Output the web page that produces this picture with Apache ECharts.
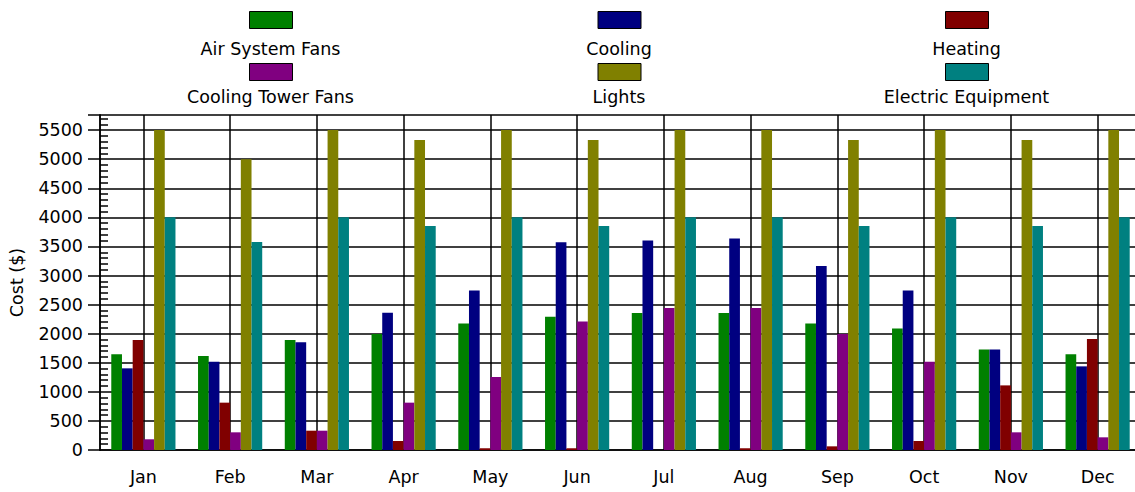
<!DOCTYPE html>
<html><head><meta charset="utf-8">
<script src="https://cdn.jsdelivr.net/npm/echarts@6/dist/echarts.min.js"></script>
<style>html,body{margin:0;padding:0;background:#fff}#c{width:1135px;height:492px}</style>
</head><body><div id="c"></div><script>
const months = ['Jan','Feb','Mar','Apr','May','Jun','Jul','Aug','Sep','Oct','Nov','Dec'];
const seriesNames = ['Air System Fans','Cooling','Heating','Cooling Tower Fans','Lights','Electric Equipment'];
const seriesColors = ['#008000','#000080','#800000','#800080','#808000','#008080'];
const airSystemFans    = [1645,1616,1891,1994,2177,2292,2355,2355,2177,2091,1730,1645];
const cooling          = [1404,1518,1851,2361,2744,3570,3604,3638,3163,2744,1730,1438];
const heating          = [1891, 814, 332, 155,  30,  30,   0,  30,  63, 155,1111,1908];
const coolingTowerFans = [ 184, 304, 332, 814,1255,2211,2441,2441,1994,1518, 304, 218];
const lights           = [5500,5000,5500,5330,5500,5330,5500,5500,5330,5500,5330,5500];
const electricEquipment= [4000,3575,4000,3850,4000,3850,4000,4000,3850,4000,3850,4000];
const seriesData = [airSystemFans, cooling, heating, coolingTowerFans, lights, electricEquipment];
const yMin = 0, yMax = 5760, yInterval = 500;

const FONT = 'DejaVu Sans';
const FS = 17.5;
const colCenters = [270.5, 619, 966.5];
const swatchTops = [11, 63];
const labelMids = [48.5, 97];

const legends = seriesNames.map((n, i) => {
  const col = i % 3, row = Math.floor(i / 3);
  return {
    data: [n], left: colCenters[col] - 21.5, top: swatchTops[row], padding: 0,
    itemWidth: 43, itemHeight: 17, icon: 'rect', selectedMode: false,
    itemStyle: { borderColor: '#000', borderWidth: 1 },
    formatter: () => '', textStyle: { fontSize: 1 }
  };
});
const labels = seriesNames.map((n, i) => {
  const col = i % 3, row = Math.floor(i / 3);
  return { type: 'text', x: colCenters[col], y: labelMids[row],
    style: { text: n, align: 'center', verticalAlign: 'middle', fill: '#000',
      font: FS + 'px "' + FONT + '"' } };
});

const lineStyle = { color: '#000', width: 1.5 };
const option = {
  animation: false,
  backgroundColor: '#fff',
  textStyle: { fontFamily: FONT },
  legend: legends,
  graphic: labels,
  grid: { left: 100, top: 115, width: 1041, height: 335, containLabel: false, outerBoundsMode: 'none' },
  xAxis: {
    type: 'category', data: months,
    axisLine: { lineStyle: lineStyle },
    axisTick: { alignWithLabel: true, length: 12, lineStyle: lineStyle },
    axisLabel: { color: '#000', fontSize: FS, fontFamily: FONT, margin: 18 },
    splitLine: { show: true, alignWithLabel: true, lineStyle: lineStyle }
  },
  yAxis: [{
    type: 'value', min: yMin, max: yMax, interval: yInterval,
    name: 'Cost ($)', nameLocation: 'middle', nameRotate: 90, nameGap: 74,
    nameTextStyle: { color: '#000', fontSize: FS, fontFamily: FONT },
    axisLine: { show: true, lineStyle: lineStyle },
    axisTick: { show: true, length: 12, lineStyle: lineStyle },
    axisLabel: { color: '#000', fontSize: FS, fontFamily: FONT, margin: 17,
      formatter: v => (v % yInterval === 0 ? String(v) : '') },
    splitLine: { show: true, lineStyle: lineStyle }
  }, {
    type: 'value', min: yMin, max: yMax, interval: yInterval, position: 'left',
    axisLine: { show: true, lineStyle: lineStyle },
    axisTick: { show: false, inside: true },
    minorTick: { show: true, splitNumber: 5, length: 8, lineStyle: { color: '#000', width: 1.5 } },
    axisLabel: { show: false },
    splitLine: { show: false }
  }],
  series: seriesNames.map((n, i) => ({
    name: n, type: 'bar', data: seriesData[i], yAxisIndex: 0,
    itemStyle: { color: seriesColors[i] },
    barGap: '0%', barCategoryGap: '26%'
  }))
};
const chart = echarts.init(document.getElementById('c'), null, { renderer: 'svg' });
chart.setOption(option);
</script></body></html>
